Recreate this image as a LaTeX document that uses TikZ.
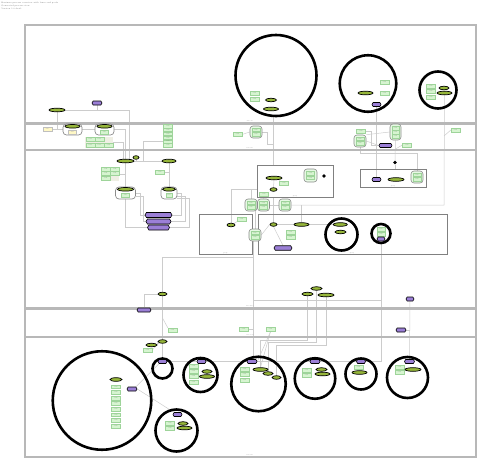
\documentclass[tikz,border=0pt]{standalone}
\usetikzlibrary{shapes.geometric,shapes.symbols,shapes.misc}
\pgfdeclarelayer{wires}
\pgfsetlayers{wires,main}
\definecolor{olv}{HTML}{96B63A}
\definecolor{pur}{HTML}{9B7FD6}
\definecolor{gfill}{HTML}{D6F5D0}
\definecolor{gline}{HTML}{9ED49A}
\definecolor{ybox}{HTML}{FFF8C6}
\definecolor{beige}{HTML}{EFEFE4}
\definecolor{wirec}{HTML}{CCCCCC}
\tikzset{
  smalltxt/.style={font=\fontsize{1.3}{1.5}\selectfont, text=black!55},
  lane/.style={draw=black!28, line width=1.3pt},
  grp/.style={draw=black!50, line width=0.6pt, minimum width=#1, inner sep=0pt},
  gb/.style={smalltxt, draw=gline, fill=gfill, line width=0.3pt, minimum width=9pt, minimum height=4pt, inner sep=0pt},
  yb/.style={gb, draw=black!25, fill=ybox},
  ol/.style={ellipse, draw=black, line width=0.7pt, fill=olv, minimum height=3.6pt, minimum width=#1, inner sep=0pt},
  ol/.default=12pt,
  pu/.style={signal, signal to=east and west, signal pointer angle=120, draw=black, line width=0.6pt, fill=pur, minimum height=4pt, minimum width=#1, inner sep=0pt},
  pu/.default=9pt,
  ring/.style={circle, draw=black, line width=2.6pt, minimum size=#1, inner sep=0pt},
  cyl/.style={draw=black!45, fill=white, rounded corners=3.5pt, line width=0.7pt, minimum width=#1, minimum height=11pt, inner sep=0pt},
  rg/.style={draw=black!45, fill=gfill!60, rounded corners=3pt, line width=0.6pt, minimum width=12pt, minimum height=12pt, inner sep=0pt},
  dot/.style={circle, fill=black, minimum size=3.6pt, inner sep=0pt},
  wire/.style={draw=wirec, line width=0.5pt},
  lbl/.style={smalltxt, inner sep=0.3pt},
}
\begin{document}
\begin{tikzpicture}[x=1pt,y=-1pt]
\useasboundingbox (0,0) rectangle (480,461);

% title block
\node[lbl, anchor=north west, align=left, font=\fontsize{2}{2.9}\selectfont] (title) at (1,1.5)
  {Business process overview with lanes and pools\\Generated process view\\Version 1.0 draft};

% lanes
\draw[lane] (25,25) rectangle (476,123);
\draw[lane] (25,124) rectangle (476,149.5);
\draw[lane] (25,150.5) rectangle (476,308);
\draw[lane] (25,309) rectangle (476,336.5);
\draw[lane] (25,337.5) rectangle (476,457);
\node[lbl, anchor=south] (lane1) at (250,122.5) {lane one};
\node[lbl, anchor=south] (lane2) at (250,149) {lane two};
\node[lbl, anchor=south] (lane3) at (250,307.5) {lane three};
\node[lbl, anchor=south] (lane4) at (250,336) {lane four};
\node[lbl, anchor=south] (lane5) at (250,456.5) {lane five};

% ---------- lane 1 ----------
\node[ring=81pt] (rA) at (276,75.5) {};
\node[gb] (rA1) at (254.5,93) {task};
\node[gb] (rA2) at (254.5,99) {task};
\node[ol=11pt] (rAo1) at (271,100) {};
\node[ol=15pt] (rAo2) at (271,109) {};

\node[ring=56.5pt] (rB) at (368,83.5) {};
\node[gb] (rB1) at (384.5,82) {task};
\node[gb] (rB2) at (384.5,93) {task};
\node[ol=15pt] (rBo) at (365.5,93) {};
\node[pu=9pt] (rBp) at (376.5,104.5) {};

\node[ring=37pt] (rC) at (438,90) {};
\node[gb] (rC1) at (431,86.5) {task};
\node[gb] (rC2) at (431,91.5) {task};
\node[gb] (rC3) at (431,97) {task};
\node[ol=10pt] (rCo1) at (444,88) {};
\node[ol=15pt] (rCo2) at (444.5,93) {};

\node[ol=16pt] (p1o) at (57,110) {};
\node[pu=10pt] (p1p) at (97,103) {};

% ---------- lane 2 ----------
\node[yb] (y2) at (47.5,129) {note};
\node[cyl=19pt] (cy1) at (72.5,129.5) {};
\node[ol=15pt] (cy1t) at (72.5,126.3) {};
\node[yb, minimum width=8pt] (cy1i) at (72.5,131.7) {data};
\node[cyl=19pt] (cy2) at (104.5,129.5) {};
\node[ol=15pt] (cy2t) at (104.5,126.3) {};
\node[gb, minimum width=8pt] (cy2i) at (104.5,131.7) {data};

\node[fill=beige, minimum width=28pt, minimum height=11pt, inner sep=0pt] (bg2) at (99,142.5) {};
\node[gb] (g2a) at (90.3,139.5) {task};
\node[gb] (g2b) at (99.2,139.5) {task};
\node[gb] (g2c) at (90.3,144.7) {task};
\node[gb] (g2d) at (99.2,144.7) {task};
\node[gb] (g2e) at (108.5,144.7) {task};

\foreach \i in {1,...,6}
  \node[gb, minimum height=3.6pt] (gc\i) at (168,{122+3.9*\i}) {task};

\node[gb] (gb2a) at (237.5,134.5) {task};
\node[rg] (rg2a) at (256,132) {};
\node[gb, minimum width=8pt, minimum height=3.6pt] (rg2a1) at (256,129.7) {task};
\node[gb, minimum width=8pt, minimum height=3.6pt] (rg2a2) at (256,134.3) {task};

\node[gb] (gb2b) at (361,131) {task};
\node[rg] (rg2b) at (360,141) {};
\node[gb, minimum width=8pt, minimum height=3.6pt] (rg2b1) at (360,138.7) {task};
\node[gb, minimum width=8pt, minimum height=3.6pt] (rg2b2) at (360,143.3) {task};
\node[rg, minimum width=11pt, minimum height=16pt] (rg2c) at (395.5,132) {};
\node[gb, minimum width=7.5pt, minimum height=3.6pt] (rg2c1) at (395.5,128) {task};
\node[gb, minimum width=7.5pt, minimum height=3.6pt] (rg2c2) at (395.5,132) {task};
\node[gb, minimum width=7.5pt, minimum height=3.6pt] (rg2c3) at (395.5,136) {task};
\node[pu=13pt] (pu2) at (385.5,145.5) {};
\node[gb] (gb2c) at (407,145) {task};
\node[gb] (gb2d) at (455.5,130) {task};

% ---------- lane 3 ----------
\node[ol=17pt] (m1) at (125.5,161) {};
\node[ol=6pt] (m2) at (136,157.5) {};
\node[ol=14pt] (m3) at (169,161) {};

\node[fill=beige, minimum width=18pt, minimum height=14pt, inner sep=0pt] (bg3) at (110,174) {};
\node[gb] (g3a) at (105.8,169.2) {task};
\node[gb] (g3b) at (114.8,169.2) {task};
\node[gb] (g3c) at (105.8,173.2) {task};
\node[gb] (g3d) at (114.8,173.2) {task};
\node[gb] (g3e) at (105.8,178.3) {task};
\node[gb] (gb3) at (160,172.5) {task};

\node[cyl=20pt, minimum height=12pt] (cy3) at (125.5,193) {};
\node[ol=16pt] (cy3t) at (125.5,189.3) {};
\node[gb, minimum width=8pt] (cy3i) at (125.5,195.3) {data};
\node[cyl=16pt, minimum height=12pt] (cy4) at (169,193) {};
\node[ol=13pt] (cy4t) at (169,189.3) {};
\node[gb, minimum width=6pt] (cy4i) at (169,195.3) {data};

\node[pu=27pt, minimum height=5pt] (hx1) at (158.5,215) {};
\node[pu=25pt, minimum height=5pt] (hx2) at (158.5,221.5) {};
\node[pu=22pt, minimum height=5pt] (hx3) at (158.5,227.5) {};

\node[grp=53pt, minimum height=40pt] (sgA) at (225.5,234) {};
\node[lbl, anchor=south] (sgAl) at (sgA.south) {group};
\node[ol=8pt] (oA) at (231,225) {};
\node[gb] (gA) at (241.5,219.5) {task};

\node[grp=76pt, minimum height=32pt] (sgB) at (295,181) {};
\node[lbl, anchor=south] (sgBl) at (sgB.south) {group};
\node[ol=16pt] (oB1) at (274,178) {};
\node[gb] (gB1) at (284,183) {task};
\node[ol=7pt] (oB2) at (273.5,189.5) {};
\node[gb] (gB2) at (264,194) {task};
\node[rg, minimum width=13pt, minimum height=13pt] (rgB) at (310.5,175.5) {};
\node[gb, minimum width=8pt, minimum height=3.6pt] (rgB1) at (310.5,173.2) {task};
\node[gb, minimum width=8pt, minimum height=3.6pt] (rgB2) at (310.5,177.8) {task};
\node[dot] (dB) at (324,176) {};

\node[grp=66pt, minimum height=18pt] (sgC) at (393,178) {};
\node[lbl, anchor=south] (sgCl) at (sgC.south) {group};
\node[pu=9pt] (pC) at (376.5,179.5) {};
\node[ol=16pt] (oC) at (396,179.5) {};
\node[rg] (rgC) at (417,177) {};
\node[gb, minimum width=8pt, minimum height=3.6pt] (rgC1) at (417,174.7) {task};
\node[gb, minimum width=8pt, minimum height=3.6pt] (rgC2) at (417,179.3) {task};
\node[dot] (dC) at (395,162.5) {};

\node[rg] (rr1) at (251,205) {};
\node[gb, minimum width=8pt, minimum height=3.6pt] (rr1a) at (251,202.7) {task};
\node[gb, minimum width=8pt, minimum height=3.6pt] (rr1b) at (251,207.3) {task};
\node[rg] (rr2) at (263.5,205) {};
\node[gb, minimum width=8pt, minimum height=3.6pt] (rr2a) at (263.5,202.7) {task};
\node[gb, minimum width=8pt, minimum height=3.6pt] (rr2b) at (263.5,207.3) {task};
\node[rg] (rr3) at (285,205) {};
\node[gb, minimum width=8pt, minimum height=3.6pt] (rr3a) at (285,202.7) {task};
\node[gb, minimum width=8pt, minimum height=3.6pt] (rr3b) at (285,207.3) {task};

\node[grp=189pt, minimum height=40pt] (sgD) at (352.5,234) {};
\node[rg] (rgL) at (255,235) {};
\node[gb, minimum width=8pt, minimum height=3.6pt] (rgL1) at (255,232.7) {task};
\node[gb, minimum width=8pt, minimum height=3.6pt] (rgL2) at (255,237.3) {task};
\node[ol=7pt] (oD1) at (273.5,224.5) {};
\node[ol=15pt] (oD2) at (301.5,224.5) {};
\node[pu=18pt, minimum height=4.5pt] (pD) at (283,248) {};
\node[gb] (gD1) at (290.5,232) {task};
\node[gb] (gD2) at (290.5,237) {task};
\node[ring=32pt] (rD1) at (341.5,234.5) {};
\node[lbl, anchor=south] (rD1l) at (352,254) {group};
\node[ol=14pt] (oD3) at (340.3,224.5) {};
\node[ol=11pt] (oD4) at (340.5,232) {};
\node[ring=19pt] (rD2) at (381,233.5) {};
\node[gb, minimum width=8pt] (gD3) at (381,229) {task};
\node[gb, minimum width=8pt] (gD4) at (381,234) {task};
\node[pu=8pt] (pD2) at (381,239) {};

\node[ol=11pt] (n1) at (316.5,288.5) {};
\node[ol=11pt] (n2) at (307.5,294) {};
\node[ol=16pt] (n3) at (326,295) {};
\node[pu=8pt] (pR) at (410,299) {};
\node[ol=9pt] (n0) at (162.5,294) {};

% ---------- lane 4 ----------
\node[pu=14pt] (p4) at (144,310) {};
\node[gb] (g4a) at (172.5,330) {task};
\node[gb] (g4b) at (243.5,329.5) {task};
\node[gb] (g4c) at (270.5,329.5) {task};
\node[pu=10pt] (p4r) at (401,330) {};

% ---------- lane 5 ----------
\node[ol=9pt] (q1) at (162.5,341.5) {};
\node[ol=11pt] (q2) at (151.5,345) {};
\node[gb] (g5) at (147.5,350) {task};

\node[ring=98.5pt] (R1) at (102,400.5) {};
\node[ol=12pt] (R1o) at (116,379.5) {};
\foreach \i in {0,...,7}
  \node[gb, minimum height=3.8pt] (lc\i) at (116,{386.7+5.6*\i}) {task};
\node[pu=10pt] (R1p) at (132,389) {};

\node[ring=20pt] (R2) at (162.5,368.5) {};
\node[pu=9pt] (R2p) at (162.5,361.5) {};

\node[ring=34pt] (R3) at (200.5,375) {};
\node[pu=9pt] (R3p) at (201.5,361.5) {};
\node[gb] (R3g1) at (193.5,366) {task};
\node[gb] (R3g2) at (193.5,371) {task};
\node[gb] (R3g3) at (193.5,376.5) {task};
\node[gb] (R3g4) at (193.5,382) {task};
\node[ol=10pt] (R3o1) at (207,371.5) {};
\node[ol=15pt] (R3o2) at (207,376.5) {};

\node[ring=42pt] (R4) at (176.5,430.5) {};
\node[pu=9pt] (R4p) at (177.5,414.5) {};
\node[gb] (R4g1) at (170,423.5) {task};
\node[gb] (R4g2) at (170,428.5) {task};
\node[ol=10pt] (R4o1) at (183,423.5) {};
\node[ol=15pt] (R4o2) at (184.5,428) {};

\node[ring=54.5pt] (R5) at (258.5,384) {};
\node[pu=10pt] (R5p) at (252,361.5) {};
\node[gb] (R5g1) at (244.5,369.5) {task};
\node[gb] (R5g2) at (244.5,374.5) {task};
\node[gb] (R5g3) at (244.5,380) {task};
\node[ol=15pt] (R5o1) at (260.5,369.5) {};
\node[ol=10pt] (R5o2) at (268,373.5) {};
\node[ol=9pt] (R5o3) at (276.5,377.5) {};

\node[ring=40.5pt] (R6) at (315,378.5) {};
\node[pu=10pt] (R6p) at (315,361.5) {};
\node[gb] (R6g1) at (306.5,370) {task};
\node[gb] (R6g2) at (306.5,375) {task};
\node[ol=11pt] (R6o1) at (321.5,369.5) {};
\node[ol=15pt] (R6o2) at (322.5,374) {};

\node[ring=31pt] (R7) at (361,374) {};
\node[pu=9pt] (R7p) at (361,361.5) {};
\node[gb] (R7g) at (358.5,367) {task};
\node[ol=15pt] (R7o) at (359.5,372.5) {};

\node[ring=41pt] (R8) at (407.5,377.5) {};
\node[pu=10pt] (R8p) at (409.5,361.5) {};
\node[gb] (R8g1) at (399.5,367.5) {task};
\node[gb] (R8g2) at (399.5,372.5) {task};
\node[ol=16pt] (R8o) at (413,369.5) {};

% ---------- connectors ----------
\coordinate (j1) at (273,144);
\coordinate (j3) at (444,205);
\coordinate (j4) at (444,136);
\coordinate (j5) at (395.5,149);
\coordinate (j6) at (230,189);
\coordinate (j7) at (253,257);
\coordinate (j8) at (162.5,318);
\coordinate (k1) at (253,300);
\begin{pgfonlayer}{wires}
\draw[wire] (p1o.east) -| ([xshift=4pt]m1.north);
\draw[wire] (p1p.south) -- (p1p.south |- p1o.east);
\draw[wire] (p1o.south) |- (cy1.west);
\draw[wire] (y2.east) -- (y2.east -| cy1.west);
\draw[wire] (cy1.east) -- (cy2.west);
\draw[wire] (cy2.east) -| (m1.north);
\draw[wire] (bg2.east) -| ([xshift=-2pt]m1.north);
\draw[wire] (gc5.west) -- ++(-20,0) |- (m3.west);
\draw[wire] (m1.east) -- (m3.west);
\draw[wire] (m2.south) -- (m2.south |- m1.east);
\draw[wire] (m1.south) -- (cy3.north);
\draw[wire] (m3.south) -- (cy4.north);
\draw[wire] (gb3.east) -- (gb3.east -| cy4.north);
\draw[wire] (bg3.east) -- (bg3.east -| m1.south);
\draw[wire] (cy3.east) -- ++(4,0) |- (hx1.west);
\draw[wire] ([yshift=-3pt]cy3.east) -- ++(7,0) |- (hx2.west);
\draw[wire] (cy3.south) |- (hx3.west);
\draw[wire] (cy4.east) -- ++(4,0) |- (hx1.east);
\draw[wire] ([yshift=-3pt]cy4.east) -- ++(8,0) |- (hx2.east);
\draw[wire] ([yshift=-5pt]cy4.east) -- ++(12,0) |- (hx3.east);

\draw[wire] ([xshift=-3pt]rA.south) -- ([xshift=-3pt]rA.south |- sgB.north);
\draw[wire] (gb2a.east) -- (rg2a.west);
\draw[wire] (rg2a.east) -- ++(5,0) |- (j1);
\draw[wire] (rBp.south) -- (pC.north);
\draw[wire] (rg2c.south) -- (dC.north);
\draw[wire] (dC.south) -- (dC.south |- sgC.north);
\draw[wire] (rCo2.south) -- (j3) -- (rr3.east);
\draw[wire] (oD2.north) -- (oD2.north |- j3);
\draw[wire] (gb2d.west) -- (j4);
\draw[wire] (rg2b.east) -- (pu2.west);
\draw[wire] (rg2b.north east) -- (rg2c.west);
\draw[wire] (gb2c.west) -- (j5);
\draw[wire] (gb2b.east) -- ++(6,0) |- (pu2.west);
\draw[wire] (rg2b.south) |- (417,153) -- (rgC.north);

\draw[wire] ([yshift=8pt]sgB.south west) -| (oA.north);
\draw[wire] (gA.south west) -- (oA.north east);
\draw[wire] (rr1.north) -- (rr1.north |- j6);
\draw[wire] (rr1.east) -- (rr2.west);
\draw[wire] (rr2.east) -- (rr3.west);
\draw[wire] (gB2.south) -- (rr2.north);
\draw[wire] (oB1.south) -- (oB2.north);
\draw[wire] (oB1.south east) -- (gB1.west);
\draw[wire] (oD1.north |- sgB.south) -- (oD1.north);
\draw[wire] (oD1.east) -- (oD2.west);
\draw[wire] (oD1.south) -- (pD.north);
\draw[wire] (oD2.east) -- (oD3.west);
\draw[wire] (rgL.north) -- (rgL.north |- rr1.south);
\draw[wire] (rgL.east) -- (oD1.west);
\draw[wire] (rD2.south) -- (rD2.south |- R7p.east) -- (R7p.east);
\draw[wire] (rD2.south |- k1) -- (k1) -- (k1 |- R5p.north);
\draw[wire] (rgL.south -| k1) -- (k1);
\draw[wire] (n0.north) |- (j7);
\draw[wire] (n0.west) -| (p4.north);
\draw[wire] (n0.south) -- (q1.north);
\draw[wire] (j8) -- (g4a.north west);
\draw[wire] (g4b.east) -- (g4b.east -| k1);
\draw[wire] (n2.south) |- (260.5,340) -- (R5o1.north);
\draw[wire] (n1.south) |- (268,342.5) -- (R5o2.north);
\draw[wire] (n3.south) |- (276.5,345) -- (R5o3.north);
\draw[wire] (g4c.south) -- (R5p.east);
\draw[wire] (g4c.south) -- (R5o1.north);
\draw[wire] (pR.south) -- (R8p.north);
\draw[wire] (p4r.east) -- (p4r.east -| pR.south);
\draw[wire] (q1.south) -- (R2p.north);
\draw[wire] (q2.east) -- (q1.west);
\draw[wire] (g5.east) -- (q1.south west);
\draw[wire] (R2p.east) -- (R3p.west);
\draw[wire] (R3p.east) -- (R5p.west);
\draw[wire] (R5p.east) -- (R6p.west);
\draw[wire] (R6p.east) -- (R7p.west);
\draw[wire] (R1p.north east) -- (R2p.south west);
\draw[wire] (R1p.east) -- (R4p.north west);
\end{pgfonlayer}
\end{tikzpicture}
\end{document}
